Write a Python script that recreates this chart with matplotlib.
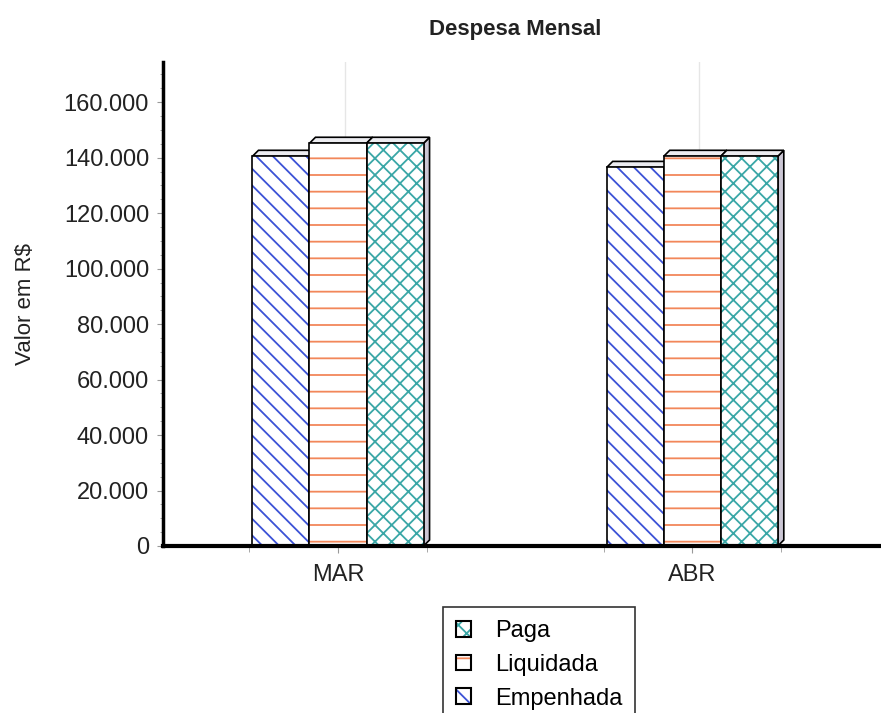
import numpy as np
import matplotlib
matplotlib.use("Agg")
import matplotlib.pyplot as plt
from matplotlib.patches import Patch, Polygon
from matplotlib.ticker import FuncFormatter, MultipleLocator, FixedLocator

plt.rcParams['font.family'] = ['Liberation Sans', 'DejaVu Sans']
plt.rcParams['hatch.linewidth'] = 1.3

# data
meses = ["MAR", "ABR"]
series = ["Empenhada", "Liquidada", "Paga"]          # bars left to right
empenhada = [140500, 136500]
liquidada = [145200, 140500]
paga = [145200, 140500]
legend_order = ["Paga", "Liquidada", "Empenhada"]

cores = {"Empenhada": "#3b52d6", "Liquidada": "#f2875a", "Paga": "#3aa7a7"}
hatches = {"Empenhada": "\\\\", "Liquidada": "-", "Paga": "xx"}
valores = {"Empenhada": empenhada, "Liquidada": liquidada, "Paga": paga}

fig = plt.figure(figsize=(8.81, 7.13), dpi=100)
ax = fig.add_axes([163/881, 1-546/713, (880-163)/881, (546-62)/713])

x = np.arange(len(meses))
w = 0.161
ax.set_xlim(-0.494, 1.53)
ax.set_ylim(0, 174500)

# 3d depth in data units (6 px right, 6 px up)
p0 = ax.transData.transform((0, 0))
d = ax.transData.inverted().transform(p0 + np.array([6, 6]))
dx, dy = d[0], d[1]

for c in x:
    ax.axvline(c + 0.02, color="#e6e6e6", lw=1, zorder=0)

z = 2
for ci in range(len(meses)):
    for si, s in enumerate(series):
        h = valores[s][ci]
        x0 = x[ci] + (si - 1) * w - w / 2
        x1 = x0 + w
        top = Polygon([(x0, h), (x1, h), (x1 + dx, h + dy), (x0 + dx, h + dy)],
                      closed=True, fc="#ececf0", ec="black", lw=1.2, zorder=z)
        side = Polygon([(x1, 0), (x1, h), (x1 + dx, h + dy), (x1 + dx, dy)],
                       closed=True, fc="#cbc6d4", ec="black", lw=1.2, zorder=z)
        ax.add_patch(side)
        ax.add_patch(top)
        ax.bar(x0, h, width=w, align="edge", color="white", edgecolor=cores[s],
               hatch=hatches[s], linewidth=0, zorder=z + 1)
        ax.bar(x0, h, width=w, align="edge", fill=False, edgecolor="black",
               linewidth=1.2, zorder=z + 1)
        z += 2

ax.spines['top'].set_visible(False)
ax.spines['right'].set_visible(False)
ax.spines['left'].set_linewidth(2.5)
ax.spines['bottom'].set_linewidth(3)
ax.spines['bottom'].set_zorder(50)

ax.yaxis.set_major_locator(MultipleLocator(20000))
ax.yaxis.set_minor_locator(MultipleLocator(5000))
ax.yaxis.set_major_formatter(FuncFormatter(lambda v, p: f"{int(v):,}".replace(",", ".")))
ax.tick_params(axis='y', which='major', length=4, color="#999999", labelsize=17,
               pad=6, labelcolor="#222222")
ax.tick_params(axis='y', which='minor', length=2, color="#999999")

ax.set_xticks(x)
ax.set_xticklabels(meses)
ax.xaxis.set_minor_locator(FixedLocator([-0.25, 0.25, 0.75, 1.25]))
ax.tick_params(axis='x', which='major', length=5, color="#999999", labelsize=17,
               pad=8, labelcolor="#222222")
ax.tick_params(axis='x', which='minor', length=4, color="#999999")

ax.set_ylabel(r"Valor em R\$", fontsize=16, labelpad=20, color="#222222")
fig.text(515/881, 1-30/713, "Despesa Mensal", ha="center", va="center",
         fontsize=16, fontweight="bold", color="#222222")

handles = []
for s in legend_order:
    handles.append((Patch(facecolor="white", edgecolor=cores[s], hatch=hatches[s], lw=0),
                    Patch(fill=False, edgecolor="black", lw=1.5)))
leg = fig.legend(handles, legend_order, loc="upper left",
                 bbox_to_anchor=(443/881, 1-607/713), fontsize=17, frameon=True,
                 fancybox=False, handlelength=0.65, handleheight=0.65,
                 borderpad=0.55, labelspacing=0.5, handletextpad=1.0,
                 borderaxespad=0)
leg.get_frame().set_edgecolor("black")
leg.get_frame().set_linewidth(1.2)

fig.savefig("out.png", dpi=100)
